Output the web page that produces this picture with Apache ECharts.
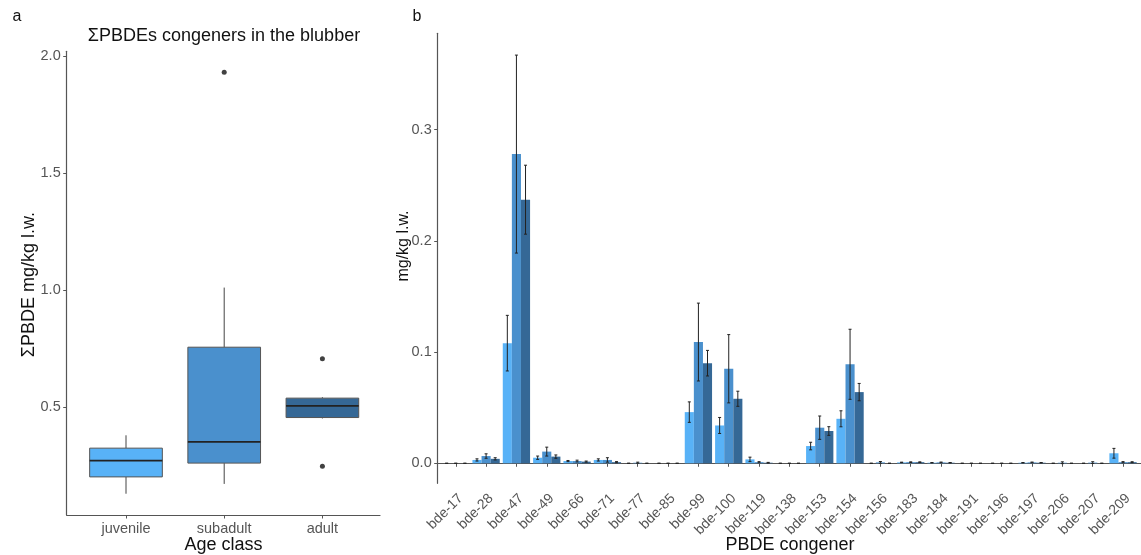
<!DOCTYPE html>
<html><head><meta charset="utf-8">
<script src="https://cdn.jsdelivr.net/npm/echarts@6/dist/echarts.min.js"></script>
<style>html,body{margin:0;padding:0;background:#fff}#c{width:1141px;height:555px}</style>
</head><body><div id="c"></div>
<script>
// ---- Panel a: boxplot data ----
const ageClasses = ['juvenile', 'subadult', 'adult'];
const boxMin    = [0.129, 0.171, 0.451];
const boxQ1     = [0.201, 0.260, 0.455];
const boxMedian = [0.271, 0.351, 0.505];
const boxQ3     = [0.324, 0.756, 0.538];
const boxMax    = [0.379, 1.011, 0.542];
const outlierClass = [1, 2, 2];
const outlierValue = [1.932, 0.707, 0.247];
const leftTicks = [0.5, 1.0, 1.5, 2.0];

// ---- Panel b: congener bars ----
const congeners = ['bde-17','bde-28','bde-47','bde-49','bde-66','bde-71','bde-77','bde-85','bde-99','bde-100','bde-119','bde-138','bde-153','bde-154','bde-156','bde-183','bde-184','bde-191','bde-196','bde-197','bde-206','bde-207','bde-209'];
const juvenileMean = [0, 0.003, 0.108, 0.005, 0.002, 0.003, 0, 0, 0.046, 0.034, 0.0035, 0, 0.0155, 0.040, 0, 0.0008, 0.0005, 0, 0, 0.0005, 0, 0, 0.009];
const subadultMean = [0, 0.0065, 0.278, 0.0105, 0.002, 0.003, 0.0005, 0, 0.109, 0.085, 0.001, 0, 0.032, 0.089, 0.0008, 0.001, 0.0008, 0, 0, 0.0008, 0.0005, 0.0006, 0.001];
const adultMean    = [0, 0.004, 0.237, 0.006, 0.0015, 0.001, 0, 0, 0.090, 0.058, 0.0005, 0, 0.029, 0.064, 0, 0.001, 0.0005, 0, 0, 0.0005, 0, 0, 0.001];
const juvenileSE = [0, 0.001, 0.025, 0.0015, 0.0005, 0.001, 0, 0, 0.0092, 0.0072, 0.002, 0, 0.0034, 0.0072, 0, 0.0002, 0.0002, 0, 0, 0.0002, 0, 0, 0.0044];
const subadultSE = [0, 0.002, 0.089, 0.004, 0.0008, 0.002, 0.0005, 0, 0.035, 0.0307, 0.0005, 0, 0.0105, 0.0315, 0.0008, 0.0003, 0.0003, 0, 0, 0.0003, 0.0008, 0.0008, 0.0005];
const adultSE    = [0, 0.001, 0.031, 0.0015, 0.0005, 0.0005, 0, 0, 0.0115, 0.0068, 0.0003, 0, 0.0039, 0.0078, 0, 0.0003, 0.0002, 0, 0, 0.0002, 0, 0, 0.0004];
const rightTicks = [0, 0.1, 0.2, 0.3];

const groupColors = ['#58B2F7', '#4A90CD', '#356896'];
const FONT = 'Liberation Sans, Arial, sans-serif';
const AXIS_COL = '#555';
const LBL_COL = '#555';

const chart = echarts.init(document.getElementById('c'), null, {renderer: 'canvas'});

const leftRange = [0.038, 2.022];
const rightRange = [-0.018, 0.3866];

function renderBox(params, api) {
  const i = api.value(0);
  const band = api.size([1, 0])[0];
  const bw = band * 0.74;
  const x = api.coord([i, api.value(3)])[0];
  const yMin = api.coord([i, api.value(1)])[1];
  const yQ1 = api.coord([i, api.value(2)])[1];
  const yMed = api.coord([i, api.value(3)])[1];
  const yQ3 = api.coord([i, api.value(4)])[1];
  const yMax = api.coord([i, api.value(5)])[1];
  const ln = {stroke: '#444', lineWidth: 1};
  return {type: 'group', children: [
    {type: 'line', shape: {x1: x, y1: yQ3, x2: x, y2: yMax}, style: ln},
    {type: 'line', shape: {x1: x, y1: yQ1, x2: x, y2: yMin}, style: ln},
    {type: 'rect', shape: {x: x - bw / 2, y: yQ3, width: bw, height: yQ1 - yQ3}, style: {fill: groupColors[i], stroke: '#555', lineWidth: 1}},
    {type: 'line', shape: {x1: x - bw / 2, y1: yMed, x2: x + bw / 2, y2: yMed}, style: {stroke: '#222', lineWidth: 1.8}}
  ]};
}

function makeErr(g) {
  return function (params, api) {
    const i = api.value(0), m = api.value(1), s = api.value(2);
    const band = api.size([1, 0])[0];
    const x = api.coord([i, m])[0] + (g - 1) * band * 0.3;
    const yt = api.coord([i, m + s])[1];
    const yb = api.coord([i, m - s])[1];
    const cw = 1.5;
    const st = {stroke: '#222', lineWidth: 1};
    return {type: 'group', children: [
      {type: 'line', shape: {x1: x, y1: yt, x2: x, y2: yb}, style: st},
      {type: 'line', shape: {x1: x - cw, y1: yt, x2: x + cw, y2: yt}, style: st},
      {type: 'line', shape: {x1: x - cw, y1: yb, x2: x + cw, y2: yb}, style: st}
    ]};
  };
}

const means = [juvenileMean, subadultMean, adultMean];
const ses = [juvenileSE, subadultSE, adultSE];
const groupNames = ['juvenile', 'subadult', 'adult'];

const barSeries = means.map((arr, g) => ({
  type: 'bar', name: groupNames[g], xAxisIndex: 3, yAxisIndex: 3,
  data: arr, barGap: '0%', barCategoryGap: '10%',
  itemStyle: {color: groupColors[g]}, silent: true, animation: false
}));
const errSeries = means.map((arr, g) => ({
  type: 'custom', xAxisIndex: 3, yAxisIndex: 3, renderItem: makeErr(g),
  encode: {x: 0, y: 1}, silent: true, animation: false, z: 5,
  data: arr.map((m, i) => [i, m, ses[g][i]])
}));

const baseLabel = {color: LBL_COL, fontFamily: FONT, fontSize: 14.5};

const option = {
  animation: false,
  grid: [
    {left: 66.7, right: 761, top: 51.3, bottom: 40},
    {left: 76.9, right: 769.5, top: 51.3, bottom: 40},
    {left: 437.7, right: 0, top: 33.3, bottom: 71.7},
    {left: 440.6, right: 2.8, top: 33.3, bottom: 71.7}
  ],
  xAxis: [
    {gridIndex: 0, type: 'category', data: ageClasses, axisLine: {show: true, lineStyle: {color: AXIS_COL, width: 1.2}}, axisTick: {show: false}, axisLabel: {show: false}},
    {gridIndex: 1, type: 'category', data: ageClasses, axisLine: {show: false}, axisTick: {show: true, alignWithLabel: true, length: 3.5, lineStyle: {color: AXIS_COL}}, axisLabel: Object.assign({margin: 6}, baseLabel)},
    {gridIndex: 2, type: 'category', data: congeners, axisLine: {show: true, lineStyle: {color: AXIS_COL, width: 1.2}}, axisTick: {show: false}, axisLabel: {show: false}},
    {gridIndex: 3, type: 'category', data: congeners, axisLine: {show: false}, axisTick: {show: true, alignWithLabel: true, length: 3.5, lineStyle: {color: AXIS_COL}}, axisLabel: Object.assign({margin: 8, rotate: 45, interval: 0, verticalAlign: 'top'}, baseLabel, {fontSize: 14})}
  ],
  yAxis: [
    {gridIndex: 0, type: 'value', min: leftRange[0], max: leftRange[1], splitLine: {show: false},
     axisLine: {show: true, lineStyle: {color: AXIS_COL, width: 1.2}},
     axisTick: {show: true, length: 3.5, customValues: leftTicks, lineStyle: {color: AXIS_COL}},
     axisLabel: Object.assign({customValues: leftTicks, margin: 6, formatter: v => v.toFixed(1)}, baseLabel)},
    {gridIndex: 1, type: 'value', min: leftRange[0], max: leftRange[1], show: false, splitLine: {show: false}},
    {gridIndex: 2, type: 'value', min: rightRange[0], max: rightRange[1], splitLine: {show: false},
     axisLine: {show: true, lineStyle: {color: AXIS_COL, width: 1.2}},
     axisTick: {show: true, length: 3.5, customValues: rightTicks, lineStyle: {color: AXIS_COL}},
     axisLabel: Object.assign({customValues: rightTicks, margin: 6, formatter: v => v.toFixed(1)}, baseLabel)},
    {gridIndex: 3, type: 'value', min: rightRange[0], max: rightRange[1], show: false, splitLine: {show: false}}
  ],
  series: [
    {type: 'custom', xAxisIndex: 1, yAxisIndex: 1, renderItem: renderBox, encode: {x: 0, y: [1, 2, 3, 4, 5]}, silent: true,
     data: ageClasses.map((_, i) => [i, boxMin[i], boxQ1[i], boxMedian[i], boxQ3[i], boxMax[i]])},
    {type: 'scatter', xAxisIndex: 1, yAxisIndex: 1, symbolSize: 5, itemStyle: {color: '#111'}, silent: true,
     data: outlierClass.map((c, i) => [c, outlierValue[i]])}
  ].concat(barSeries, errSeries),
  graphic: [
    {type: 'text', x: 17, y: 17, style: {text: 'a', font: '16px ' + FONT, fill: '#111', textAlign: 'center', textVerticalAlign: 'middle'}},
    {type: 'text', x: 417, y: 17, style: {text: 'b', font: '16px ' + FONT, fill: '#111', textAlign: 'center', textVerticalAlign: 'middle'}},
    {type: 'text', x: 224, y: 36.5, style: {text: 'ΣPBDEs congeners in the blubber', font: '18px ' + FONT, fill: '#111', textAlign: 'center', textVerticalAlign: 'middle'}},
    {type: 'text', x: 29.3, y: 284.6, rotation: Math.PI / 2, style: {text: 'ΣPBDE mg/kg l.w.', font: '18px ' + FONT, fill: '#111', textAlign: 'center', textVerticalAlign: 'middle'}},
    {type: 'text', x: 223.5, y: 545, style: {text: 'Age class', font: '18px ' + FONT, fill: '#111', textAlign: 'center', textVerticalAlign: 'middle'}},
    {type: 'text', x: 403.3, y: 246, rotation: Math.PI / 2, style: {text: 'mg/kg l.w.', font: '16px ' + FONT, fill: '#111', textAlign: 'center', textVerticalAlign: 'middle'}},
    {type: 'text', x: 790, y: 545.5, style: {text: 'PBDE congener', font: '18px ' + FONT, fill: '#111', textAlign: 'center', textVerticalAlign: 'middle'}}
  ]
};
chart.setOption(option);
</script>
</body></html>
